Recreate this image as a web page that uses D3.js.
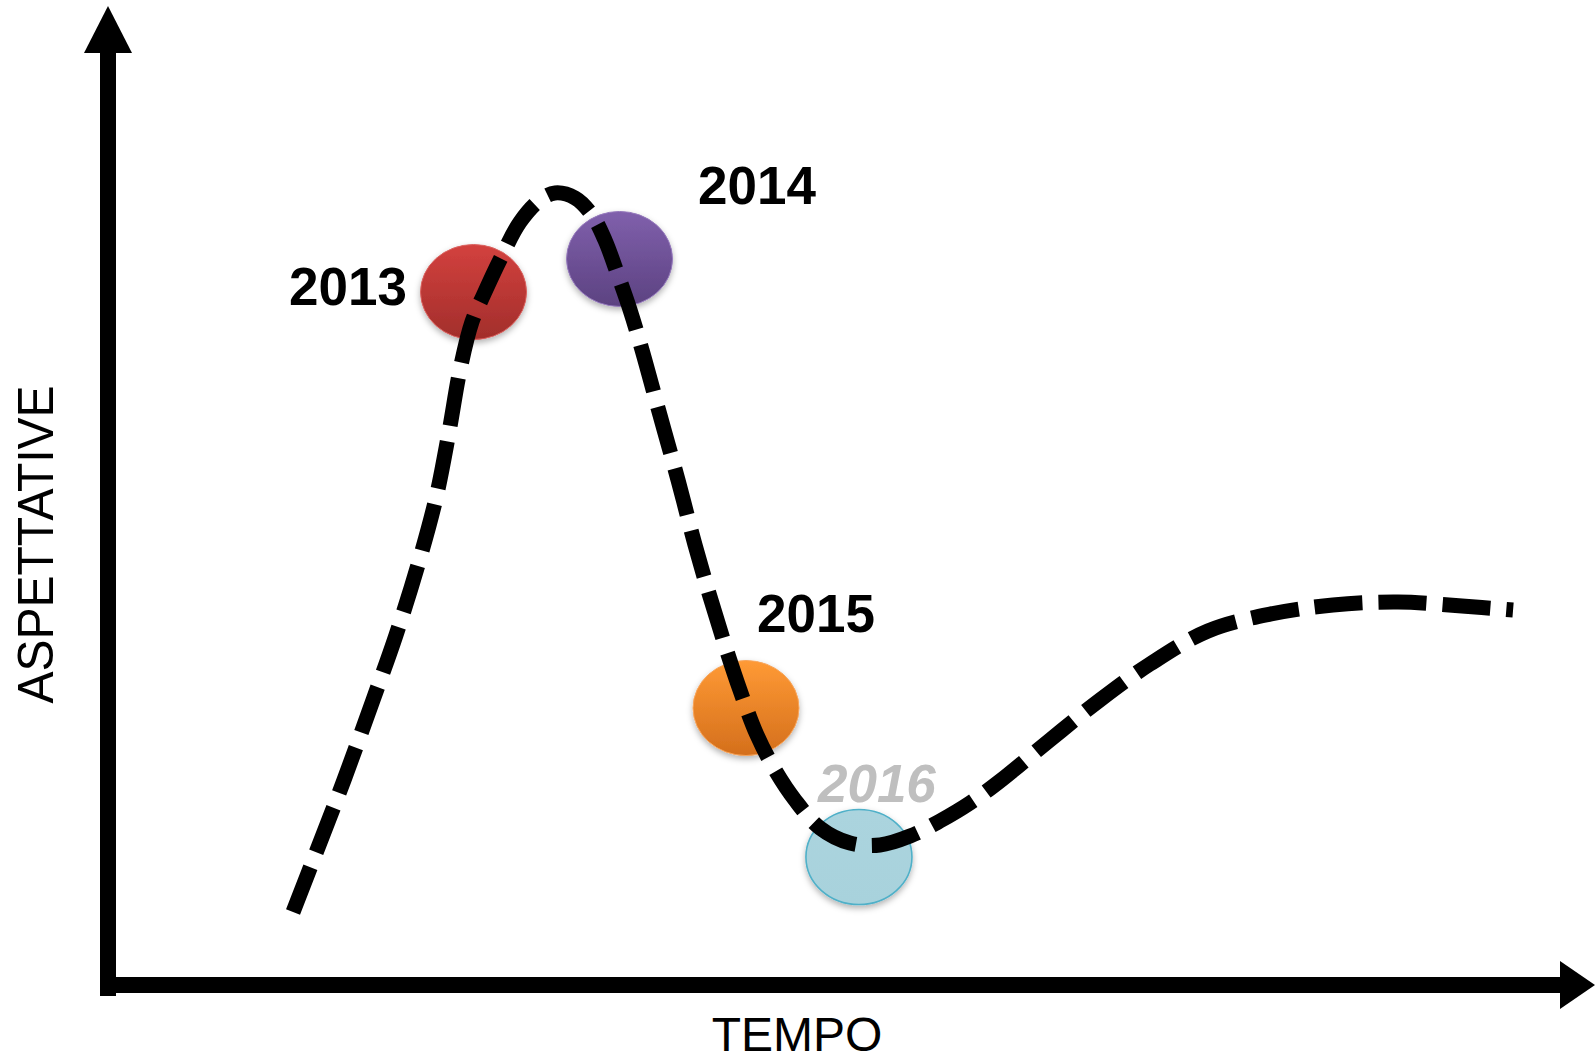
<!DOCTYPE html>
<html>
<head>
<meta charset="utf-8">
<script src="https://cdn.jsdelivr.net/npm/d3@7"></script>
<style>
  html, body { margin: 0; padding: 0; background: #ffffff; }
  svg { display: block; }
</style>
</head>
<body>
<div id="chart"></div>
<script>
// ---- data (time 0-100, expectations 0-100) ----
const curveTime = [12.26, 14.06, 15.79, 17.80, 19.39, 20.91, 22.16, 23.06, 23.82, 24.65,
  25.45, 26.65, 27.98, 29.36, 30.40, 31.79, 32.96, 33.86, 34.76, 35.60,
  36.43, 37.67, 38.92, 40.10, 41.14, 42.17, 43.21, 44.39, 45.64, 47.02,
  48.75, 50.83, 52.91, 54.99, 57.06, 59.14, 61.22, 64.68, 68.14, 71.61,
  75.62, 79.99, 84.28, 88.78, 93.21, 96.75];
const curveExpect = [7.03, 14.29, 21.32, 29.98, 37.01, 44.59, 51.84, 58.98, 65.69, 70.89,
  73.81, 77.81, 81.71, 84.09, 84.85, 84.31, 82.47, 79.76, 75.97, 72.19,
  67.86, 60.82, 53.79, 46.75, 41.13, 35.93, 31.06, 26.19, 22.40, 19.16,
  16.13, 14.50, 14.29, 15.26, 16.88, 18.83, 21.21, 25.65, 29.98, 33.87,
  37.45, 39.29, 40.26, 40.58, 40.15, 39.72];

const years = ["2013", "2014", "2015", "2016"];
const yearTime = [24.76, 34.87, 43.63, 51.45];
const yearExpect = [74.13, 77.71, 29.11, 12.99];

const xTitle = "TEMPO";
const yTitle = "ASPETTATIVE";

// ---- layout / style ----
const W = 1595, H = 1056;
const font = "'Liberation Sans', Arial, Helvetica, sans-serif";
const x = d3.scaleLinear().domain([0, 100]).range([116, 1560]);
const y = d3.scaleLinear().domain([0, 100]).range([977, 53]);

const bubbleStyle = [
  { top: "#d3413e", bottom: "#a22e2b", stroke: "#d9605d", label: "#000000", italic: false, dx: -184.5, dy: 13 },
  { top: "#8060ac", bottom: "#5c4281", stroke: "#9478bb", label: "#000000", italic: false, dx: 78.5, dy: -55 },
  { top: "#ff9a35", bottom: "#d46f1c", stroke: "#f7a45a", label: "#000000", italic: false, dx: 11, dy: -76 },
  { top: "#abd4de", bottom: "#a8d2dc", stroke: "#4fb0c8", label: "#bfbfbf", italic: true, dx: -41, dy: -55 }
];

const svg = d3.select("#chart").append("svg")
  .attr("width", W).attr("height", H).attr("viewBox", `0 0 ${W} ${H}`);

const defs = svg.append("defs");
bubbleStyle.forEach((s, i) => {
  const g = defs.append("linearGradient").attr("id", "grad" + i)
    .attr("x1", 0).attr("y1", 0).attr("x2", 0).attr("y2", 1);
  g.append("stop").attr("offset", "0%").attr("stop-color", s.top);
  g.append("stop").attr("offset", "100%").attr("stop-color", s.bottom);
});
const f = defs.append("filter").attr("id", "shadow")
  .attr("x", "-30%").attr("y", "-30%").attr("width", "160%").attr("height", "170%");
f.append("feDropShadow").attr("dx", 0).attr("dy", 3).attr("stdDeviation", 3)
  .attr("flood-color", "#000").attr("flood-opacity", 0.3);

// axes (arrows)
const axisW = 16;
const x0 = x(0) - axisW / 2;   // vertical axis centre
const y0 = y(0) + axisW / 2;   // horizontal axis centre
svg.append("line")
  .attr("x1", x0).attr("x2", x0).attr("y1", y(100)).attr("y2", y0 + axisW / 2 + 3)
  .attr("stroke", "#000").attr("stroke-width", axisW);
svg.append("line")
  .attr("x1", x0 - axisW / 2).attr("x2", x(100)).attr("y1", y0).attr("y2", y0)
  .attr("stroke", "#000").attr("stroke-width", axisW);
svg.append("path")
  .attr("d", `M${x0},6 L${x0 - 24},${y(100)} L${x0 + 24},${y(100)} Z`)
  .attr("fill", "#000");
svg.append("path")
  .attr("d", `M${W},${y0} L${x(100)},${y0 - 24} L${x(100)},${y0 + 24} Z`)
  .attr("fill", "#000");

// axis titles
svg.append("text")
  .attr("x", 797).attr("y", 1051)
  .attr("text-anchor", "middle")
  .attr("font-family", font).attr("font-size", 48).attr("fill", "#000")
  .text(xTitle);
svg.append("text")
  .attr("transform", "translate(53,544.5) rotate(-90)")
  .attr("text-anchor", "middle")
  .attr("font-family", font).attr("font-size", 50).attr("fill", "#000")
  .attr("textLength", 318).attr("lengthAdjust", "spacingAndGlyphs")
  .text(yTitle);

// bubbles
const bubbles = years.map((yr, i) => ({ yr, t: yearTime[i], e: yearExpect[i], s: bubbleStyle[i], i }));
svg.append("g").selectAll("ellipse").data(bubbles).join("ellipse")
  .attr("cx", d => x(d.t)).attr("cy", d => y(d.e))
  .attr("rx", 53).attr("ry", 47.5)
  .attr("fill", d => `url(#grad${d.i})`)
  .attr("stroke", d => d.s.stroke).attr("stroke-width", d => d.i === 3 ? 1.6 : 1)
  .attr("filter", "url(#shadow)");

// labels
svg.append("g").selectAll("text").data(bubbles).join("text")
  .attr("x", d => x(d.t) + d.s.dx).attr("y", d => y(d.e) + d.s.dy)
  .attr("font-family", font).attr("font-weight", "bold")
  .attr("font-style", d => d.s.italic ? "italic" : "normal")
  .attr("font-size", 53).attr("fill", d => d.s.label)
  .text(d => d.yr);

// hype curve
const pts = curveTime.map((t, i) => [t, curveExpect[i]]);
const line = d3.line().x(d => x(d[0])).y(d => y(d[1])).curve(d3.curveCatmullRom.alpha(0.5));
svg.append("path")
  .attr("d", line(pts))
  .attr("fill", "none").attr("stroke", "#000")
  .attr("stroke-width", 15).attr("stroke-dasharray", "48,16")
  .attr("stroke-linecap", "butt");
</script>
</body>
</html>
